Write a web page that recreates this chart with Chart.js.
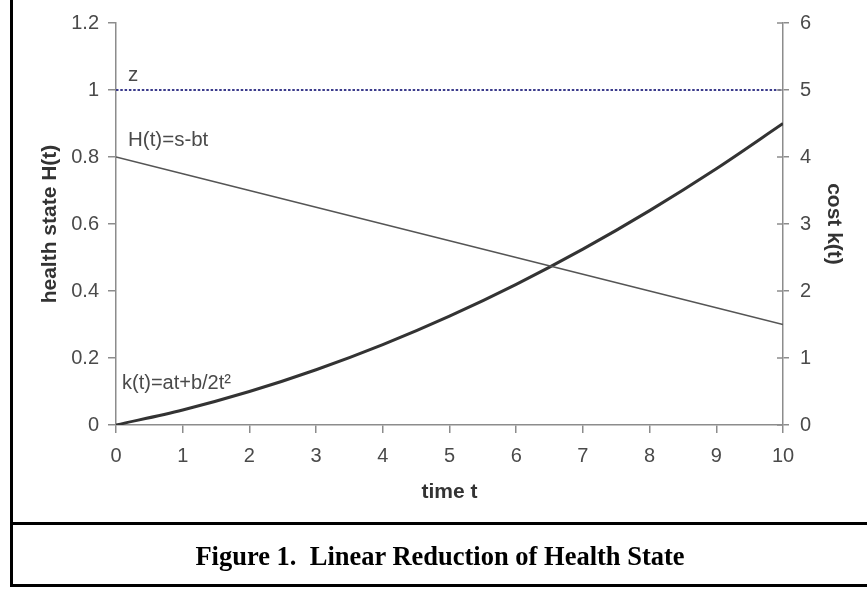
<!DOCTYPE html>
<html>
<head>
<meta charset="utf-8">
<script src="https://cdn.jsdelivr.net/npm/chart.js@4"></script>
<style>
    body { margin: 0; background: #fff; }
    #page { position: relative; width: 867px; height: 590px; overflow: hidden; }
    #chart-box { position: absolute; left: 0; top: 0; width: 867px; height: 522px; }
    #frame { position: absolute; left: 10px; top: -5px; width: 870px; height: 592px;
        border-left: 3px solid #000; border-bottom: 3px solid #000; box-sizing: border-box; }
    #sep { position: absolute; left: 10px; top: 522px; width: 870px; height: 3px; background: #000; }
    #caption { position: absolute; left: 13px; width: 854px; top: 541px; text-align: center;
        font-family: "Liberation Serif", "Times New Roman", serif; font-weight: bold; font-size: 26.5px;
        line-height: 30px; white-space: pre; color: #000; }
</style>
</head>
<body>
<div id="page">
    <div id="chart-box"><canvas id="health-chart"></canvas></div>
    <div id="frame"></div>
    <div id="sep"></div>
    <div id="caption">Figure 1.  Linear Reduction of Health State</div>
</div>
<script>
// valeurs
const tValues = [0, 1, 2, 3, 4, 5, 6, 7, 8, 9, 10];
const healthValues = [0.8, 0.75, 0.7, 0.65, 0.6, 0.55, 0.5, 0.45, 0.4, 0.35, 0.3];
const costValues = [0, 0.225, 0.5, 0.825, 1.2, 1.625, 2.1, 2.625, 3.2, 3.825, 4.5];
const zValues = [1, 1, 1, 1, 1, 1, 1, 1, 1, 1, 1];
const leftTicks = ["0", "0.2", "0.4", "0.6", "0.8", "1", "1.2"];
const rightTicks = ["0", "1", "2", "3", "4", "5", "6"];
const xTicks = ["0", "1", "2", "3", "4", "5", "6", "7", "8", "9", "10"];

const labelFont = { family: "'Liberation Sans', Arial, sans-serif", size: 20 };
const titleFont = { family: "'Liberation Sans', Arial, sans-serif", size: 21, weight: "bold", lineHeight: 1.2 };
const axisColor = "#8c8c8c";
const textColor = "#4a4a4a";

const toPoints = (xs, ys) => xs.map((x, i) => ({ x: x, y: ys[i] }));

// textes dans le graphique + petites graduations à droite
const annotations = {
    id: "annotations",
    afterDatasetsDraw(chart) {
        const { ctx, scales } = chart;
        const x0 = scales.x.getPixelForValue(0);
        ctx.save();
        ctx.font = "20.5px 'Liberation Sans', Arial, sans-serif";
        ctx.fillStyle = textColor;
        ctx.textBaseline = "middle";
        ctx.textAlign = "left";
        ctx.fillText("z", x0 + 12, scales.y.getPixelForValue(1) - 15);
        ctx.fillText("H(t)=s-bt", x0 + 12, scales.y.getPixelForValue(0.8) - 17);
        ctx.font = "20px 'Liberation Sans', Arial, sans-serif";
        ctx.fillText("k(t)=at+b/2t²", x0 + 6, scales.y.getPixelForValue(0) - 42);

        const xr = scales.y2.left;
        ctx.strokeStyle = axisColor;
        ctx.lineWidth = 1.5;
        scales.y2.ticks.forEach(t => {
            const py = scales.y2.getPixelForValue(t.value);
            ctx.beginPath();
            ctx.moveTo(xr - 6, py);
            ctx.lineTo(xr, py);
            ctx.stroke();
        });
        ctx.restore();
    }
};

const config = {
    type: "line",
    data: {
        datasets: [
            {
                label: "z",
                data: toPoints(tValues, zValues),
                yAxisID: "y",
                borderColor: "#3c3c8c",
                borderWidth: 2,
                borderDash: [2.5, 1.8],
                pointRadius: 0
            },
            {
                label: "H(t)",
                data: toPoints(tValues, healthValues),
                yAxisID: "y",
                borderColor: "#555555",
                borderWidth: 1.5,
                pointRadius: 0
            },
            {
                label: "k(t)",
                data: toPoints(tValues, costValues),
                yAxisID: "y2",
                borderColor: "#333333",
                borderWidth: 3,
                cubicInterpolationMode: "monotone",
                pointRadius: 0
            }
        ]
    },
    options: {
        responsive: true,
        maintainAspectRatio: false,
        animation: false,
        layout: { padding: { top: 23, left: 0, right: 0, bottom: 0 } },
        plugins: {
            legend: { display: false },
            tooltip: { enabled: false }
        },
        scales: {
            x: {
                type: "linear",
                min: 0,
                max: 10,
                afterFit: s => { s.height = 97; },
                grid: { drawOnChartArea: false, tickLength: 8, color: axisColor, lineWidth: 1.5 },
                border: { color: axisColor, width: 1.5 },
                ticks: {
                    stepSize: 1,
                    padding: 11,
                    color: textColor,
                    font: labelFont,
                    maxRotation: 0,
                    callback: (v, i) => xTicks[i]
                },
                title: {
                    display: true,
                    text: "time t",
                    color: "#333",
                    font: titleFont,
                    padding: { top: 0, bottom: 17 }
                }
            },
            y: {
                position: "left",
                min: 0,
                max: 1.2,
                afterFit: s => { s.width = 116; },
                grid: { drawOnChartArea: false, tickLength: 8, color: axisColor, lineWidth: 1.5 },
                border: { color: axisColor, width: 1.5 },
                ticks: {
                    stepSize: 0.2,
                    padding: 9,
                    color: textColor,
                    font: labelFont,
                    callback: (v, i) => leftTicks[i]
                },
                title: {
                    display: true,
                    text: "health state H(t)",
                    color: "#333",
                    font: titleFont,
                    padding: { top: 38, bottom: 0 }
                }
            },
            y2: {
                position: "right",
                min: 0,
                max: 6,
                afterFit: s => { s.width = 84; },
                grid: { drawOnChartArea: false, tickLength: 6, color: axisColor, lineWidth: 1.5 },
                border: { color: axisColor, width: 1.5 },
                ticks: {
                    stepSize: 1,
                    padding: 11,
                    color: textColor,
                    font: labelFont,
                    callback: (v, i) => rightTicks[i]
                },
                title: {
                    display: true,
                    text: "cost k(t)",
                    color: "#333",
                    font: titleFont,
                    padding: { top: 21, bottom: 0 }
                }
            }
        }
    },
    plugins: [annotations]
};

const ctx = document.getElementById("health-chart").getContext("2d");
new Chart(ctx, config);
</script>
</body>
</html>
